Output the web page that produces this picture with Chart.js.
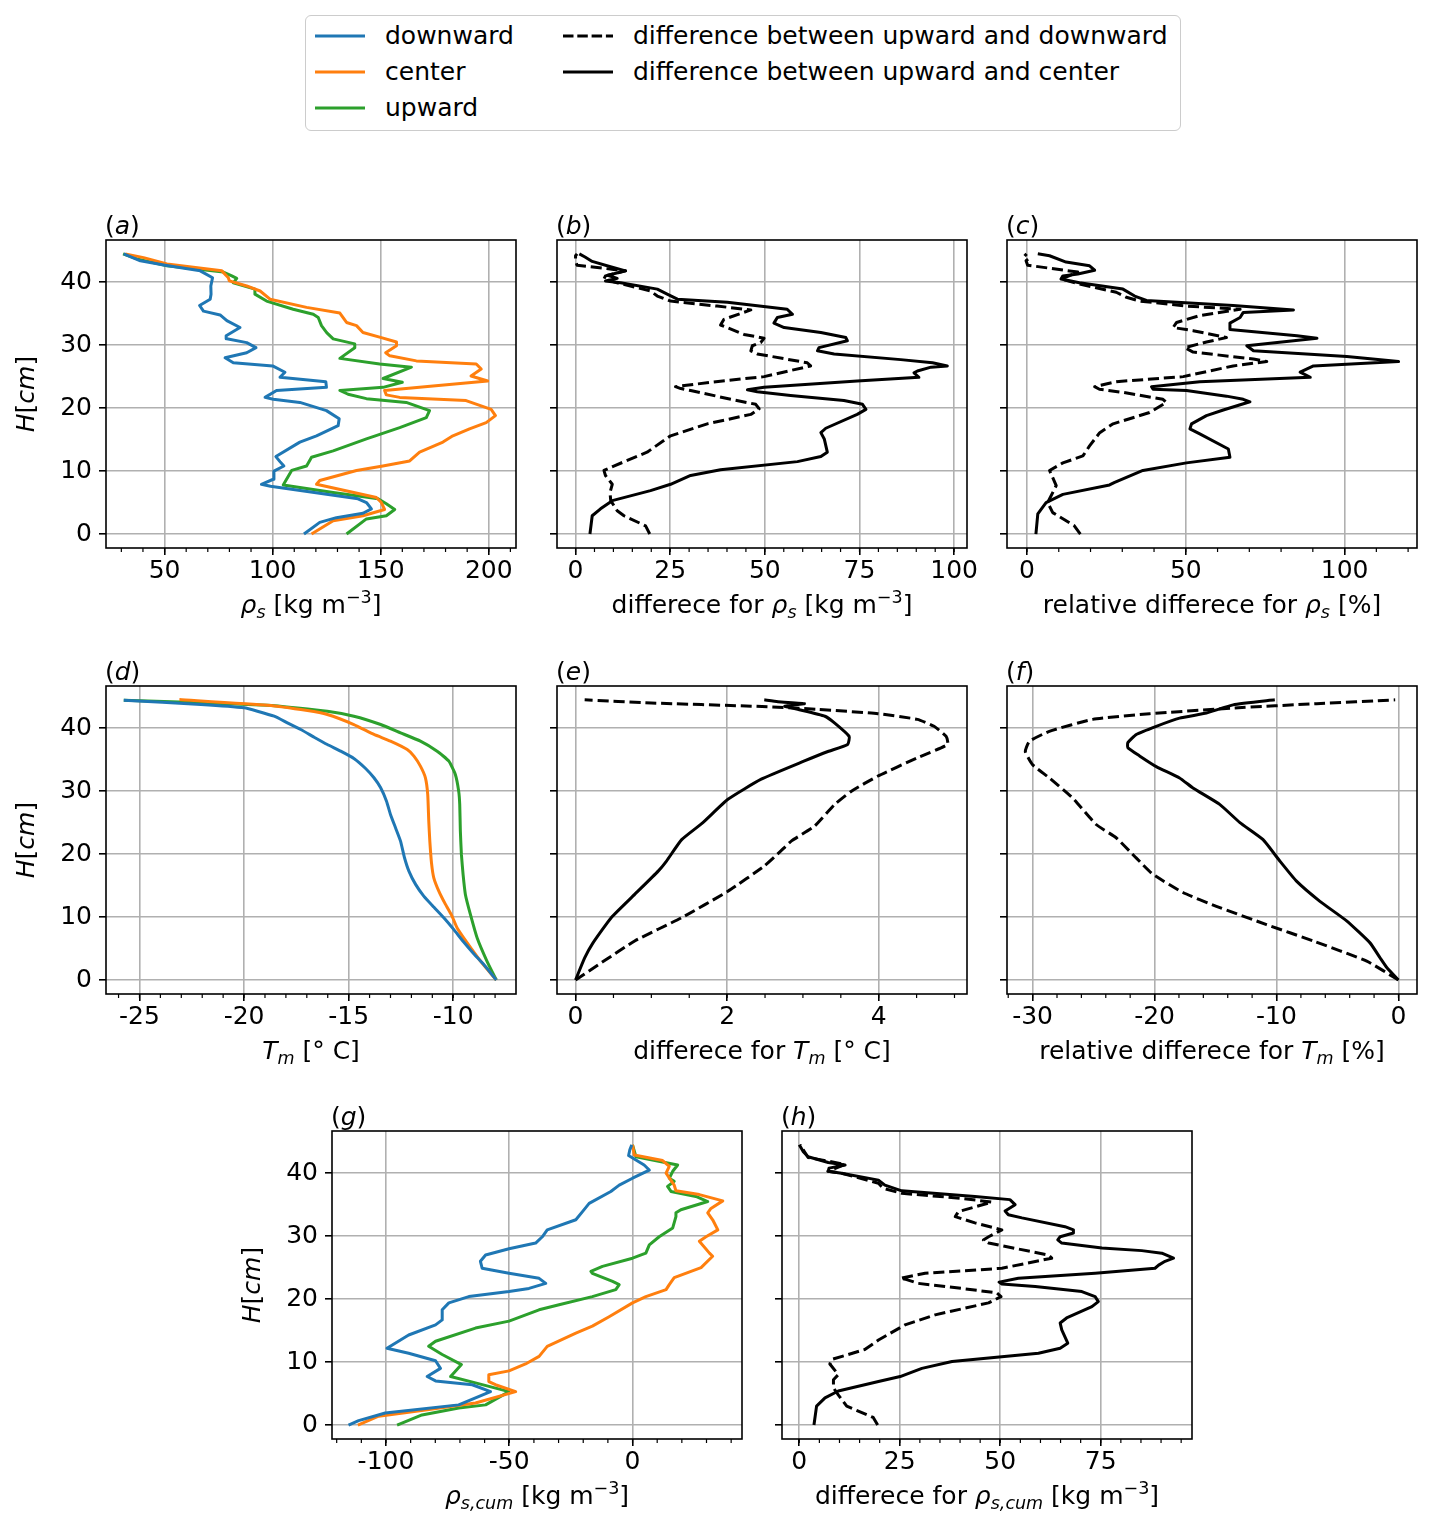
<!DOCTYPE html>
<html><head><meta charset="utf-8">
<script src="https://cdn.jsdelivr.net/npm/chart.js@4.4.0/dist/chart.umd.min.js"></script>
<style>
html,body{margin:0;padding:0;background:#fff;}
#fig{position:relative;width:1433px;height:1524px;overflow:hidden;background:#fff;font-family:'DejaVu Sans',sans-serif;}
#fig canvas{position:absolute;}
.legend{position:absolute;left:305px;top:15px;width:876px;height:116px;box-sizing:border-box;border:1.6px solid #cccccc;border-radius:6px;background:#fff;}
.li{position:absolute;height:30px;line-height:30px;font-size:25px;white-space:nowrap;color:#000;}
.ls{position:absolute;width:50px;height:6px;}
</style></head><body>
<div id="fig">
  <div class="legend">
    <svg class="ls" style="left:9px;top:17px" width="50" height="6"><line x1="0" y1="3" x2="50" y2="3" stroke="#1f77b4" stroke-width="3"/></svg>
    <div class="li" style="left:79px;top:5px">downward</div>
    <svg class="ls" style="left:9px;top:53px" width="50" height="6"><line x1="0" y1="3" x2="50" y2="3" stroke="#ff7f0e" stroke-width="3"/></svg>
    <div class="li" style="left:79px;top:41px">center</div>
    <svg class="ls" style="left:9px;top:89px" width="50" height="6"><line x1="0" y1="3" x2="50" y2="3" stroke="#2ca02c" stroke-width="3"/></svg>
    <div class="li" style="left:79px;top:77px">upward</div>
    <svg class="ls" style="left:257px;top:17px" width="50" height="6"><line x1="0" y1="3" x2="50" y2="3" stroke="#000" stroke-width="3" stroke-dasharray="10.5 3.8"/></svg>
    <div class="li" style="left:327px;top:5px">difference between upward and downward</div>
    <svg class="ls" style="left:257px;top:53px" width="50" height="6"><line x1="0" y1="3" x2="50" y2="3" stroke="#000" stroke-width="3"/></svg>
    <div class="li" style="left:327px;top:41px">difference between upward and center</div>
  </div>
</div>
<script>
// ---------------- DATA ----------------
const yTicks = [0, 10, 20, 30, 40];

// (a) snow density rho_s [kg m-3]
const aDownH = [0,1.85,2.6,3.3,4.0,5.0,5.6,7.6,7.9,8.7,10.0,10.8,11.5,12.3,14.6,15.6,17.2,18.3,19.6,20.9,21.4,21.7,22.8,23.3,24.2,24.9,25.7,26.7,27.2,28.0,28.8,29.6,30.4,31.0,31.5,32.8,33.9,34.8,35.4,36.3,37.3,38.1,39.4,40.7,41.8,42.7,43.4,44.5];
const aDownV = [114.5,121.8,129.5,141.8,145.7,143.4,139.5,99,94.8,100.3,100.6,105.2,103.4,101.5,112.6,120.3,130.3,130.8,124.9,112.6,100.3,96.5,101.8,124.9,124.6,103.4,105.7,100,81.8,78,88,92.3,88,78.8,78.5,84.9,78.8,75.7,68,66.2,71.1,71.5,71.4,72.2,66.5,50.3,38.8,31.1];
const aCenH = [0,2.1,2.9,3.9,5.0,5.8,7.9,8.5,10.1,10.8,11.6,13.0,14.6,15.6,16.7,17.7,18.8,19.8,21.2,21.7,22.1,22.8,23.5,24.3,25.1,26.2,27.0,27.5,28.3,28.8,29.9,30.5,31.2,32.0,33.1,33.6,35.1,36.0,37.3,38.6,39.4,40.2,40.7,41.8,42.9,43.9,44.5];
const aCenV = [118,128,141.8,151.8,150.3,148,120.3,121.8,138.8,151,163.4,168,178.8,183.4,191.1,198.8,203.1,201.1,189.5,158.8,152.6,151.8,174.2,199.5,191.8,196.5,194.2,166.5,154.2,152.3,157.3,157.3,150.3,141.8,138.8,134.2,131.1,115.7,98.8,94.2,88,80,79.5,76.5,51.1,40.3,31.8];
const aUpH = [0,2.4,2.9,3.9,4.8,5.6,6.6,7.8,10.1,10.8,12.2,13.2,15.1,16.9,18.5,19.6,20.9,21.5,22.2,22.8,23.3,24.1,24.7,26.5,27.0,27.9,29.6,30.2,31.0,32.0,33.1,34.4,34.9,35.7,37.0,38.1,38.9,39.9,40.6,41.0,41.6,42.6,43.7,44.5];
const aUpV = [134.2,143.4,152.6,156.5,152.6,148.8,128,104.9,108.8,115.7,118,128,143.4,158.8,171.1,172.6,161.8,143.4,134.9,131.1,151.1,160,151.1,164.2,149.5,131.1,138,138,128,125,122.6,121.1,118.8,109.5,97.2,91.8,91.8,81.8,83.4,81.1,77.2,51.1,37.2,30.8];

// (b) difference for rho_s
const bCenH = [0,2.9,4.0,5.3,6.9,7.9,9.3,10.2,11.5,12.3,13.0,15.1,16.1,16.8,19.0,19.8,20.6,21.2,22.0,22.6,22.9,23.3,24.3,24.9,25.6,25.9,26.5,26.7,27.2,27.7,28.6,29.1,29.6,30.7,31.2,32.0,32.8,33.5,34.4,34.9,35.7,36.8,37.3,38.1,38.9,39.9,40.2,40.6,41.1,41.8,42.5,43.3,44.0,44.5];
const bCenV = [3.8,4.4,6.6,9.7,19.8,25.1,30.4,38.3,58.6,64.8,66.5,65.7,64.8,66.1,74.4,76.7,75.8,70.9,56.8,48,45.4,49.8,74.4,90.7,89.4,90.3,93.9,98.2,94.3,85.9,68.3,63.9,64.3,71.8,71.4,64.8,55.1,52.4,53.3,57.3,55.9,40.1,26.9,24.2,21.6,11.9,7.9,11.0,8.5,13.2,9.0,4.4,2.5,1.0];
const bDownH = [0,1.3,2.9,3.7,5.3,6.6,7.9,9.3,10.1,10.8,13.0,15.6,17.5,19.0,19.9,20.6,21.4,22.8,23.1,23.4,24.1,25.0,26.7,27.2,28.6,29.1,29.9,30.4,31.1,31.7,33.2,34.1,35.6,36.2,37.0,37.8,38.6,39.9,40.5,41.0,41.8,42.7,43.4,44.2,44.5];
const bDownV = [19.6,18.5,12.8,11,9.3,9.1,9.7,7.9,7.5,10.1,18.9,25.1,34.8,46.3,48.5,47.6,41,30.4,27.8,26.4,35.7,49.8,62.1,61.2,48,46.3,46.7,48.9,49.8,44.5,38.3,39.2,46.3,37.4,25.1,21.6,19.8,11,7.5,7.9,13.2,0.4,0,0,0.4];

// (c) relative difference for rho_s [%]
const cCenH = [0,3.2,5.0,6.3,7.8,8.2,10.1,11.3,12.2,13.5,15.9,16.7,17.5,18.8,19.7,21.0,21.4,21.9,22.8,23.0,23.4,24.2,24.9,25.7,26.7,27.4,28.2,29.1,29.9,31.1,31.5,32.5,33.5,34.4,35.2,35.6,36.3,37.1,37.8,38.9,39.9,40.5,41.0,41.3,41.9,42.6,43.2,44.2,44.5];
const cCenV = [2.8,3.4,6,11.3,26,27.6,36.5,50.2,63.9,63.4,54.4,51.3,51.8,56.5,61.8,70.2,68.1,62.8,50.2,39.7,39.2,54.4,89.2,86,90.2,117,100.7,71.3,69.2,91.3,85,63.9,63.9,67.1,68.1,83.9,64.9,37.6,33.9,30.2,16.5,10.7,11.3,16,21.3,19.7,12.3,7.1,3.4];
const cDownH = [0,1.3,3.4,5.0,7.7,10.1,11.3,12.4,14.0,16.1,17.5,19.3,20.9,21.4,22.5,23.0,23.4,24.2,25.0,26.7,27.4,27.8,28.9,29.6,30.5,31.2,32.3,32.8,33.6,34.7,35.7,36.2,37.0,37.6,38.4,39.7,40.5,41.6,42.7,43.4,43.8,44.5];
const cDownV = [16.8,14.9,8.1,6.5,9.2,7.1,11.3,17.6,19.7,22.9,27.1,38.6,43.9,42.8,30.2,22.8,21.3,28.1,49.2,64.9,75.5,71.3,52.3,49.7,56.5,62.8,52.3,46,47.1,54.4,67.1,50.2,35.5,31.3,28.1,16.5,10.7,16,0.2,-0.3,0.7,-0.8];

// (d) temperature T_m [deg C]
const dDownH = [0,2.49,4.18,6.03,8.04,9.89,11.59,13.33,15.19,17.3,19.42,22.06,24.18,26.3,28.41,30.53,32.12,33.6,35.19,36.35,37.41,38.57,39.79,40.85,41.9,42.7,43.23,43.76,44.44];
const dDownV = [-7.94,-8.55,-9.02,-9.5,-9.98,-10.45,-10.93,-11.41,-11.8,-12.12,-12.33,-12.52,-12.76,-13.0,-13.19,-13.47,-13.79,-14.19,-14.75,-15.38,-16.02,-16.65,-17.29,-17.93,-18.56,-19.36,-19.99,-22.06,-25.75];
const dCenH = [0,3.02,5.93,8.31,10.16,12.01,14.13,16.24,18.62,22.06,25.24,29.47,32.12,33.97,35.56,36.61,37.94,39.0,40.58,42.17,42.8,43.65,44.55];
const dCenV = [-7.94,-8.7,-9.34,-9.82,-10.06,-10.37,-10.69,-10.93,-11.04,-11.12,-11.17,-11.22,-11.33,-11.57,-11.88,-12.2,-13.0,-13.79,-14.75,-16.02,-16.97,-18.88,-23.09];
const dUpH = [0,3.02,6.72,10.42,13.6,16.77,19.95,23.65,27.88,30.0,32.65,34.76,36.35,37.94,39.26,40.58,41.9,42.7,43.65,44.44];
const dUpV = [-7.94,-8.39,-8.86,-9.18,-9.42,-9.53,-9.61,-9.66,-9.69,-9.74,-9.9,-10.21,-10.77,-11.57,-12.52,-13.47,-14.75,-16.02,-18.88,-25.75];

// (e) difference for T_m
const eCenH = [0,3.5,5.9,9.9,13.6,17.3,18.9,22.3,25.0,28.7,31.9,34.8,36.3,37.4,38.7,40.8,41.9,43.0,43.5,43.9,44.2,44.5];
const eCenV = [0,0.12,0.23,0.47,0.78,1.09,1.2,1.4,1.68,2.01,2.45,3.02,3.33,3.59,3.61,3.42,3.29,2.93,2.76,3.02,2.67,2.49];
const eDownH = [0,6.2,9.9,14.1,18.1,20.5,22.1,24.4,27.9,30.0,32.4,35.3,37.4,38.7,40.3,41.4,42.3,43.0,43.5,44.0,44.5];
const eDownV = [0,0.78,1.4,2.01,2.49,2.71,2.85,3.15,3.42,3.64,3.99,4.51,4.91,4.89,4.73,4.51,3.99,3.2,2.32,1.0,0.12];

// (f) relative difference for T_m [%]
const fCenH = [0,2.0,3.5,5.9,9.4,12.5,15.7,18.9,22.3,25.0,27.9,30.5,32.1,33.9,35.6,36.9,37.7,39.0,40.3,41.6,42.4,43.7,44.5];
const fCenV = [0,-0.96,-1.5,-2.33,-4.25,-6.44,-8.36,-9.73,-11.1,-13.0,-14.66,-16.85,-17.95,-19.86,-21.23,-22.19,-22.19,-21.5,-19.86,-17.95,-15.75,-13.56,-10.14];
const fDownH = [0,3.0,6.2,8.8,11.7,13.9,16.8,19.4,22.6,24.7,28.9,32.1,34.2,36.3,37.9,39.5,41.4,42.3,43.2,43.9,44.5];
const fDownV = [0,-2.6,-6.99,-10.82,-14.93,-17.67,-20.14,-21.51,-23.15,-24.79,-26.71,-28.63,-30.0,-30.6,-30.27,-28.63,-25.07,-20.41,-13.56,-6.71,-0.27];

// (g) cumulative density rho_s,cum
const gDownH = [0,0.7,1.9,3.2,5.3,6.4,7.0,7.7,9.0,10.2,11.4,12.2,14.3,15.9,16.7,18.3,19.4,20.4,21.2,21.7,22.5,23.3,24.1,24.9,26.0,27.0,28.0,28.9,29.9,31.0,32.6,33.9,35.2,37.1,38.1,39.2,40.5,41.3,42.8,43.7,44.5];
const gDownV = [-115.2,-111.1,-100.3,-70.5,-57.6,-65,-79.9,-83.3,-77.9,-79.9,-90.8,-99.6,-90.8,-79.9,-77.2,-77.2,-74.5,-66.4,-50.1,-42,-35.2,-37.9,-50.1,-61,-61.7,-59.6,-50.1,-39.3,-36.6,-34.6,-23.0,-20.3,-17.6,-8.8,-5.4,0,6.8,4.7,-1.6,-1.1,-0.3];
const gCenH = [0,1.4,2.4,3.5,5.3,6.4,6.9,8.0,8.6,9.7,10.9,12.5,14.6,15.7,17.2,19.4,20.4,21.5,22.3,23.4,25.0,26.8,27.3,29.2,29.9,31.0,32.6,33.7,34.4,35.6,36.6,37.2,38.1,40.0,41.1,42.0,42.9,44.5];
const gCenV = [-111.4,-103,-84,-63.7,-47.4,-55.6,-58.3,-58.3,-50.1,-43.4,-37.9,-34.6,-23,-16.3,-9.5,0,5.4,13.6,14.9,16.9,27.8,32.5,31.2,27.1,29.8,34.6,32.5,30.5,31.8,36.6,27.1,17.6,16.9,13.6,14.9,12.2,0.7,0];
const gUpH = [0,1.6,2.7,3.2,5.3,6.7,7.7,8.3,9.6,11.2,12.5,13.3,15.4,16.5,18.3,19.1,20.4,21.5,22.3,22.8,24.1,24.4,25.2,26.5,27.3,28.6,29.9,31.3,33.1,33.7,34.2,35.5,36.3,37.1,37.9,38.7,39.2,40.3,41.3,42.6,44.5];
const gUpV = [-95.5,-85.4,-70.5,-59.6,-50.1,-63.7,-73.8,-72.4,-69.4,-77.2,-82.7,-79.9,-63.7,-50.1,-37.9,-29.8,-16.3,-6.8,-5.4,-8.1,-16.3,-16.9,-12.2,0,5.4,6.8,10.8,16.3,17.6,17.6,19.6,30.5,25.7,15.6,14.2,16.9,14.9,16.3,18.3,1.4,0];

// (h) difference for rho_s,cum
const hCenH = [0,3.0,4.3,5.4,6.9,7.7,9.0,10.1,11.4,12.2,13.0,15.1,16.2,17.0,18.8,19.6,20.4,21.2,22.0,22.4,22.7,23.3,24.1,24.9,25.4,26.0,26.5,27.3,27.7,28.1,28.9,29.4,29.9,30.5,31.0,31.5,32.9,33.4,34.0,35.0,35.8,36.3,37.2,38.1,38.9,40.0,40.3,40.8,41.3,41.7,42.6,43.4,44.5];
const hCenV = [3.65,4.3,6.4,9.7,19.7,25.1,30.5,38,59.5,64.9,66.8,65.3,64.9,66.5,72.8,74.4,73.6,70.3,58.7,50.4,49.7,54.5,73.6,88.5,89.4,91,93.1,90.2,85.2,75.3,65.3,64.3,64.9,68.2,68.2,66.1,55.4,52,51.2,53.7,52.4,43.7,25.5,21.3,19.7,10.5,7.2,7.4,11.4,7.2,2.2,1,0];
const hDownH = [0,1.2,3.0,4.8,5.9,7.2,8.0,9.7,10.4,12.0,13.5,15.9,17.5,19.4,20.4,21.0,21.7,22.5,23.1,23.3,24.1,24.9,26.5,27.0,28.9,29.4,29.9,31.0,32.1,33.1,33.9,35.4,36.0,36.8,37.6,38.4,40.0,40.3,41.4,42.5,44.5];
const hDownV = [19.5,18.4,11.8,9.7,8.5,8.5,9.7,7.6,8,16.3,19.7,26.3,33.8,47.1,50.2,49.1,40.4,29.6,26.7,25.1,31.3,50.4,62.8,62,47.1,45.8,47.1,50.4,43.7,38.8,39.6,47.9,40.4,25.5,20.9,19.7,10.5,7.1,11.4,2.2,0.2];

// tick labels
const aTicks = [50, 100, 150, 200];
const bTicks = [0, 25, 50, 75, 100];
const cTicks = [0, 50, 100];
const dTicks = [-25, -20, -15, -10];
const eTicks = [0, 2, 4];
const fTicks = [-30, -20, -10, 0];
const gTicks = [-100, -50, 0];
const hTicks = [0, 25, 50, 75];

// ---------------- RENDER ----------------
const FONT = "'DejaVu Sans', sans-serif";
const FS = 25;
Chart.defaults.font.family = FONT;
Chart.defaults.font.size = FS;
Chart.defaults.color = '#000';
const BLUE = '#1f77b4', ORANGE = '#ff7f0e', GREEN = '#2ca02c', BLACK = '#000000';
const PL = 120, PT = 40, PR = 30, PB = 90;

function steps(a, b, s) { const r = []; for (let v = a; v <= b + 1e-9; v += s) r.push(+v.toFixed(4)); return r; }

function setFont(ctx, seg) {
  const size = seg.s ? FS * 0.7 : FS;
  ctx.font = (seg.it ? 'italic ' : '') + size + 'px ' + FONT;
}
function drawRich(ctx, segs, x, y, align) {
  let w = 0;
  for (const s of segs) { setFont(ctx, s); w += ctx.measureText(s.t).width; }
  let cx = align === 'center' ? x - w / 2 : x;
  ctx.textBaseline = 'alphabetic'; ctx.textAlign = 'left'; ctx.fillStyle = '#000';
  for (const s of segs) {
    setFont(ctx, s);
    const dy = s.s === 'sub' ? 5 : (s.s === 'sup' ? -10 : 0);
    ctx.fillText(s.t, cx, y + dy);
    cx += ctx.measureText(s.t).width;
  }
}
const RHO = [{t: 'ρ', it: 1}, {t: 's', it: 1, s: 'sub'}];
const RHOCUM = [{t: 'ρ', it: 1}, {t: 's,cum', it: 1, s: 'sub'}];
const TM = [{t: 'T', it: 1}, {t: 'm', it: 1, s: 'sub'}];
const KG = [{t: ' [kg m'}, {t: '−3', s: 'sup'}, {t: ']'}];
const DEG = [{t: ' [° C]'}];
const PCT = [{t: ' [%]'}];
const YT = [{t: 'H', it: 1}, {t: '['}, {t: 'cm', it: 1}, {t: ']'}];

function panelPlugin(p) {
  return {
    id: 'deco' + p.id,
    afterDraw(chart) {
      const ctx = chart.ctx, a = chart.chartArea, xs = chart.scales.x;
      ctx.save();
      ctx.strokeStyle = '#000'; ctx.lineWidth = 1.2; ctx.beginPath();
      for (const v of p.minor) {
        const px = xs.getPixelForValue(v);
        ctx.moveTo(px, a.bottom); ctx.lineTo(px, a.bottom + 4);
      }
      ctx.stroke();
      ctx.lineWidth = 1.6;
      ctx.strokeRect(a.left, a.top, a.right - a.left, a.bottom - a.top);
      drawRich(ctx, p.xtitle, (a.left + a.right) / 2, a.bottom + 65, 'center');
      drawRich(ctx, [{t: '('}, {t: p.id, it: 1}, {t: ')'}], a.left - 1, a.top - 6, 'left');
      if (p.ylab) {
        ctx.save();
        ctx.translate(a.left - 72, (a.top + a.bottom) / 2);
        ctx.rotate(-Math.PI / 2);
        drawRich(ctx, YT, 0, 0, 'center');
        ctx.restore();
      }
      ctx.restore();
    }
  };
}

const fig = document.getElementById('fig');
function makePanel(p) {
  const c = document.createElement('canvas');
  const W = p.w + PL + PR, H = p.h + PT + PB;
  c.width = W; c.height = H;
  c.style.left = (p.x - PL) + 'px'; c.style.top = (p.y - PT) + 'px';
  c.style.width = W + 'px'; c.style.height = H + 'px';
  fig.appendChild(c);
  new Chart(c, {
    type: 'scatter',
    data: {
      datasets: p.series.map(s => ({
        data: s.v.map((v, i) => ({x: v, y: s.h[i]})),
        showLine: true, borderColor: s.color, backgroundColor: s.color, borderWidth: 3,
        borderDash: s.dash ? [11.1, 4.8] : [], pointRadius: 0, pointHoverRadius: 0,
        fill: false, tension: p.smooth || 0, borderJoinStyle: 'round', borderCapStyle: 'butt'
      }))
    },
    options: {
      responsive: false, animation: false, events: [],
      layout: {padding: {left: 0, top: PT, right: PR, bottom: 0}},
      plugins: {legend: {display: false}, tooltip: {enabled: false}},
      scales: {
        x: {
          type: 'linear', position: 'bottom', min: p.xmin, max: p.xmax,
          afterBuildTicks: s => { s.ticks = p.major.map(v => ({value: v})); },
          afterFit: s => { s.height = PB; },
          ticks: {padding: 1, color: '#000', font: {size: FS, family: FONT}, maxRotation: 0, autoSkip: false, callback: v => String(v)},
          grid: {color: '#b0b0b0', lineWidth: 1.6, tickColor: '#000', tickLength: 7, tickWidth: 1.6, drawTicks: true},
          border: {display: false}
        },
        y: {
          type: 'linear', position: 'left', min: -2.22, max: 46.7,
          afterBuildTicks: s => { s.ticks = yTicks.map(v => ({value: v})); },
          afterFit: s => { s.width = PL; },
          ticks: {padding: 7, color: '#000', font: {size: FS, family: FONT}, autoSkip: false, callback: v => p.ylab ? String(v) : ''},
          grid: {color: '#b0b0b0', lineWidth: 1.6, tickColor: '#000', tickLength: 7, tickWidth: 1.6, drawTicks: true},
          border: {display: false}
        }
      }
    },
    plugins: [panelPlugin(p)]
  });
}

const R1 = 239.5, R2 = 685.5, R3 = 1131, PW = 410, PH = 308;
const panels = [
  {id: 'a', x: 106, y: R1, xmin: 22.9, xmax: 212.6, major: aTicks, minor: steps(30, 210, 10), ylab: true,
   xtitle: [...RHO, ...KG],
   series: [{h: aDownH, v: aDownV, color: BLUE}, {h: aCenH, v: aCenV, color: ORANGE}, {h: aUpH, v: aUpV, color: GREEN}]},
  {id: 'b', x: 556.5, y: R1, xmin: -4.9, xmax: 103.4, major: bTicks, minor: steps(0, 100, 5), ylab: false,
   xtitle: [{t: 'differece for '}, ...RHO, ...KG],
   series: [{h: bDownH, v: bDownV, color: BLACK, dash: true}, {h: bCenH, v: bCenV, color: BLACK}]},
  {id: 'c', x: 1007, y: R1, xmin: -6.3, xmax: 122.8, major: cTicks, minor: steps(0, 120, 10), ylab: false,
   xtitle: [{t: 'relative differece for '}, ...RHO, ...PCT],
   series: [{h: cDownH, v: cDownV, color: BLACK, dash: true}, {h: cCenH, v: cCenV, color: BLACK}]},
  {id: 'd', x: 106, y: R2, xmin: -26.6, xmax: -7.0, major: dTicks, minor: steps(-26, -8, 1), ylab: true, smooth: 0.15,
   xtitle: [...TM, ...DEG],
   series: [{h: dDownH, v: dDownV, color: BLUE}, {h: dCenH, v: dCenV, color: ORANGE}, {h: dUpH, v: dUpV, color: GREEN}]},
  {id: 'e', x: 556.5, y: R2, xmin: -0.245, xmax: 5.165, major: eTicks, minor: steps(0, 5, 0.5), ylab: false, smooth: 0.15,
   xtitle: [{t: 'differece for '}, ...TM, ...DEG],
   series: [{h: eDownH, v: eDownV, color: BLACK, dash: true}, {h: eCenH, v: eCenV, color: BLACK}]},
  {id: 'f', x: 1007, y: R2, xmin: -32.1, xmax: 1.52, major: fTicks, minor: steps(-32, 0, 2), ylab: false, smooth: 0.15,
   xtitle: [{t: 'relative differece for '}, ...TM, ...PCT],
   series: [{h: fDownH, v: fDownV, color: BLACK, dash: true}, {h: fCenH, v: fCenV, color: BLACK}]},
  {id: 'g', x: 331.5, y: R3, xmin: -121.9, xmax: 44.4, major: gTicks, minor: steps(-120, 40, 10), ylab: true,
   xtitle: [...RHOCUM, ...KG],
   series: [{h: gDownH, v: gDownV, color: BLUE}, {h: gCenH, v: gCenV, color: ORANGE}, {h: gUpH, v: gUpV, color: GREEN}]},
  {id: 'h', x: 782, y: R3, xmin: -4.3, xmax: 97.7, major: hTicks, minor: steps(0, 95, 5), ylab: false,
   xtitle: [{t: 'differece for '}, ...RHOCUM, ...KG],
   series: [{h: hDownH, v: hDownV, color: BLACK, dash: true}, {h: hCenH, v: hCenV, color: BLACK}]}
];
panels.forEach(p => { p.w = PW; p.h = PH; makePanel(p); });
</script>
</body></html>
